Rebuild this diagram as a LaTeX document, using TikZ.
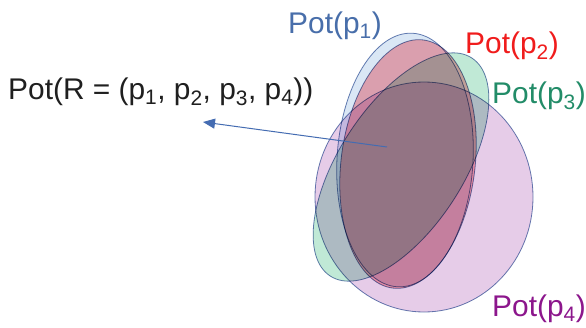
\documentclass[tikz,border=0pt]{standalone}
\usepackage{fontspec}
\setmainfont{Liberation Sans}
\usetikzlibrary{arrows.meta}
\definecolor{bluefill}{RGB}{218,231,245}
\definecolor{redfill}{RGB}{255,176,182}
\definecolor{greenfill}{RGB}{192,233,214}
\definecolor{purplefill}{RGB}{230,204,232}
\definecolor{edgecol}{RGB}{80,108,168}
\definecolor{bluetxt}{RGB}{72,110,170}
\definecolor{redtxt}{RGB}{240,28,28}
\definecolor{greentxt}{RGB}{34,140,104}
\definecolor{purpletxt}{RGB}{140,22,140}
\definecolor{arrowcol}{RGB}{68,108,178}
\newcommand\psub[1]{\textsubscript{#1}}
\begin{document}
\begin{tikzpicture}[x=1bp,y=1bp,
  potset/.style={draw=edgecol,line width=0.8bp,draw opacity=0.85},
  lbl/.style={inner sep=0pt,anchor=base west,font=\fontsize{30}{36}\selectfont}]
\useasboundingbox (0,0) rectangle (586,327);
\begin{scope}[blend group=multiply]
  \fill[white] (0,0) rectangle (586,327);
  \path[potset,fill=bluefill] (405,167) ellipse [x radius=68,y radius=127,rotate=-3.5];
  \path[potset,fill=redfill] (408,163) ellipse [x radius=67,y radius=125,rotate=-7];
  \path[potset,fill=greenfill] (401,160) ellipse [x radius=130,y radius=62,rotate=57];
  \path[potset,fill=purplefill] (424,130) ellipse [x radius=109,y radius=115];
\end{scope}
\node[lbl,text=bluetxt] (l1) at (288,294) {Pot(p\psub{1})};
\node[lbl,text=redtxt] (l2) at (465,274) {Pot(p\psub{2})};
\node[lbl,text=greentxt] (l3) at (492,224) {Pot(p\psub{3})};
\node[lbl,text=purpletxt] (l4) at (492,11) {Pot(p\psub{4})};
\node[lbl,text=black!88] (lr) at (8,228) {Pot(R = (p\psub{1}, p\psub{2}, p\psub{3}, p\psub{4}))};
\coordinate (from) at (387,180);
\coordinate (to) at (203,205);
\draw[arrowcol,line width=1bp,-{Triangle[length=12bp,width=10bp]}] (from) -- (to);
\end{tikzpicture}
\end{document}
